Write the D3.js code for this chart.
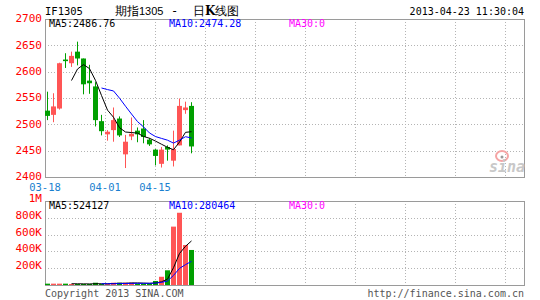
<!DOCTYPE html>
<html>
<head>
<meta charset="utf-8">
<script src="https://cdn.jsdelivr.net/npm/d3@7"></script>
<style>
body { margin: 0; background: #fff; }
svg { display: block; }
text { font-family: "DejaVu Sans Mono", monospace; }
</style>
</head>
<body>
<div></div>
<script>
// trading days shown on the chart
let dates = ["03-18", "03-19", "03-20", "03-21", "03-22", "03-25", "03-26", "03-27", "03-28", "03-29",
    "04-01", "04-02", "04-03", "04-08", "04-09", "04-10", "04-11", "04-12", "04-15", "04-16",
    "04-17", "04-18", "04-19", "04-22", "04-23"];
let open = [2526, 2518, 2530, 2623, 2616, 2638, 2625, 2583, 2572, 2506,
    2481, 2489, 2511, 2443, 2477, 2488, 2492, 2471, 2452, 2425,
    2457, 2431, 2460, 2527, 2535];
let high = [2562, 2559, 2617, 2635, 2638, 2657, 2625, 2613, 2580, 2518,
    2489, 2532, 2515, 2480, 2513, 2494, 2508, 2474, 2453, 2457,
    2460, 2488, 2549, 2543, 2542];
let low = [2508, 2504, 2528, 2607, 2609, 2612, 2557, 2558, 2496, 2479,
    2469, 2467, 2476, 2417, 2470, 2466, 2464, 2459, 2422, 2418,
    2431, 2420, 2460, 2520, 2445];
let close = [2516, 2534, 2616, 2620, 2630, 2625, 2576, 2578, 2508, 2487,
    2486, 2508, 2479, 2467, 2482, 2481, 2476, 2462, 2440, 2452,
    2452, 2453, 2535, 2532, 2458];
// volume in thousands of lots
let volume = [16, 16, 16, 16, 12, 12, 12, 12, 27, 12,
    12, 27, 27, 27, 27, 15, 15, 15, 48, 98,
    175, 695, 860, 476, 417];

let priceTicks = [2400, 2450, 2500, 2550, 2600, 2650, 2700];
let volTicks = [200, 400, 600, 800, 1000];
let volTickLabels = ["200K", "400K", "600K", "800K", "1M"];
let dateTickLabels = ["03-18", "04-01", "04-15"];

let priceMaText = ["MA5:2486.76", "MA10:2474.28", "MA30:0"];
let volMaText = ["MA5:524127", "MA10:280464", "MA30:0"];

let w = 540, h = 300;
let left = 45, right = 525;
let red = "#ff5555", green = "#009f00", grid = "#b4b4b4", frame = "#9a9a9a";
let maColors = ["#000000", "#0000ff", "#ff00ff"];

let svg = d3.select("div").append("svg").attr("width", w).attr("height", h);

let x = d3.scaleLinear().domain([0, 80]).range([left, right]);
let yPrice = d3.scaleLinear().domain([2400, 2700]).range([177, 19]);
let yVol = d3.scaleLinear().domain([0, 1000]).range([285, 201]);

let crisp = v => Math.round(v) + 0.5;
let cx = i => x(i) + 2.5;
let days = d3.range(dates.length);
let up = i => close[i] >= open[i];

function movingAvg(arr, n) {
    return arr.map((d, i) => i < n - 1 ? null : d3.mean(arr.slice(i - n + 1, i + 1)));
}

// vertical grid columns every 50px
let gridX = d3.range(left + 60, right, 50);

function panel(yScale, ticks, top, bottom) {
    let g = svg.append("g");
    g.selectAll(".hg").data(ticks.slice(1, -1)).enter().append("line")
        .attr("x1", left).attr("x2", right)
        .attr("y1", d => crisp(yScale(d))).attr("y2", d => crisp(yScale(d)))
        .attr("stroke", grid).attr("stroke-dasharray", "1,2");
    g.selectAll(".vg").data(gridX).enter().append("line")
        .attr("x1", d => d + 0.5).attr("x2", d => d + 0.5)
        .attr("y1", top).attr("y2", bottom)
        .attr("stroke", grid).attr("stroke-dasharray", "1,2");
    g.append("rect")
        .attr("x", left + 0.5).attr("y", top + 0.5)
        .attr("width", right - left - 1).attr("height", bottom - top - 1)
        .attr("fill", "none").attr("stroke", frame);
}

panel(yPrice, priceTicks, Math.round(yPrice(2700)), Math.round(yPrice(2400)) + 1);
panel(yVol, [0].concat(volTicks), Math.round(yVol(1000)), Math.round(yVol(0)) + 1);

// price axis labels
let priceAxis = d3.axisLeft(yPrice).tickValues(priceTicks).tickSize(0).tickPadding(3)
    .tickFormat(d3.format("d"));
svg.append("g").attr("transform", "translate(" + left + ",0)").call(priceAxis)
    .call(g => g.select(".domain").remove())
    .selectAll("text").attr("fill", "#ff0000").attr("font-size", 11)
    .attr("font-family", "DejaVu Sans Mono").attr("dy", "0.25em");

let volAxis = d3.axisLeft(yVol).tickValues(volTicks).tickSize(0).tickPadding(3)
    .tickFormat((d, i) => volTickLabels[i]);
svg.append("g").attr("transform", "translate(" + left + ",0)").call(volAxis)
    .call(g => g.select(".domain").remove())
    .selectAll("text").attr("fill", "#ff0000").attr("font-size", 11)
    .attr("font-family", "DejaVu Sans Mono").attr("dy", "0.05em");

// date labels sit on the left edge and the first grid columns
svg.selectAll(".dl").data(dateTickLabels).enter().append("text")
    .attr("x", (d, i) => i == 0 ? left : gridX[i - 1])
    .attr("y", 191)
    .attr("text-anchor", "middle")
    .attr("font-size", 10.5)
    .attr("fill", "#1a7fcf")
    .text(d => d);

// candles
let candles = svg.append("g");
candles.selectAll("line").data(days).enter().append("line")
    .attr("x1", cx).attr("x2", cx)
    .attr("y1", i => yPrice(high[i])).attr("y2", i => yPrice(low[i]))
    .attr("stroke", i => up(i) ? red : green);
candles.selectAll("rect").data(days).enter().append("rect")
    .attr("x", i => x(i))
    .attr("width", i => x(i + 1) - x(i) - 1)
    .attr("y", i => yPrice(Math.max(open[i], close[i])))
    .attr("height", i => Math.max(1, Math.abs(yPrice(open[i]) - yPrice(close[i]))))
    .attr("fill", i => up(i) ? red : green);

// volume bars
svg.append("g").selectAll("rect").data(days).enter().append("rect")
    .attr("x", i => x(i))
    .attr("width", i => x(i + 1) - x(i) - 1)
    .attr("y", i => yVol(volume[i]))
    .attr("height", i => yVol(0) - yVol(volume[i]))
    .attr("fill", i => up(i) ? red : green);

// moving averages
function maLine(values, yScale, n, color) {
    let ma = movingAvg(values, n);
    let line = d3.line().defined(d => d != null).x((d, i) => cx(i)).y(d => yScale(d));
    svg.append("path").datum(ma).attr("d", line)
        .attr("fill", "none").attr("stroke", color).attr("stroke-width", 1);
}
maLine(close, yPrice, 5, maColors[0]);
maLine(close, yPrice, 10, maColors[1]);
maLine(volume, yVol, 5, maColors[0]);
maLine(volume, yVol, 10, maColors[1]);

// legends
let legendX = [49, 169, 289];
svg.selectAll(".pm").data(priceMaText).enter().append("text")
    .attr("x", (d, i) => legendX[i]).attr("y", 27)
    .attr("font-size", 10).attr("fill", (d, i) => maColors[i]).text(d => d);
svg.selectAll(".vm").data(volMaText).enter().append("text")
    .attr("x", (d, i) => legendX[i]).attr("y", 209)
    .attr("font-size", 10).attr("fill", (d, i) => maColors[i]).text(d => d);

// header
svg.append("text").attr("x", 45).attr("y", 15).attr("font-size", 10.5).text("IF1305");
svg.append("text").attr("x", 524).attr("y", 15).attr("text-anchor", "end")
    .attr("font-size", 10).text("2013-04-23 11:30:04");
let title = svg.append("text").attr("x", 115).attr("y", 15).attr("font-size", 12)
    .attr("font-family", "Noto Sans CJK SC");
title.append("tspan").text("期指");
title.append("tspan").attr("font-family", "Liberation Sans").attr("font-size", 11).text("1305");
svg.append("text").attr("x", 171).attr("y", 15).attr("font-size", 12).attr("font-family", "Liberation Sans").text("-");
let title2 = svg.append("text").attr("x", 193).attr("y", 15).attr("font-size", 12)
    .attr("font-family", "Noto Sans CJK SC");
title2.append("tspan").text("日");
title2.append("tspan").attr("font-weight", "bold").attr("font-family", "DejaVu Serif").text("K");
title2.append("tspan").text("线图");

// footer
svg.append("text").attr("x", 45).attr("y", 297).attr("font-size", 10).attr("fill", "#555").text("Copyright 2013 SINA.COM");
svg.append("text").attr("x", 524).attr("y", 297).attr("text-anchor", "end")
    .attr("font-size", 10).attr("fill", "#555").text("http://finance.sina.com.cn");

// sina watermark
let logo = svg.append("g").attr("transform", "translate(489,148)");
logo.append("ellipse").attr("cx", 13).attr("cy", 8).attr("rx", 6).attr("ry", 5)
    .attr("fill", "none").attr("stroke", "#f5a5a5").attr("stroke-width", 2);
logo.append("circle").attr("cx", 13).attr("cy", 9).attr("r", 1.5).attr("fill", "#999");
logo.append("text").attr("x", 0).attr("y", 24).attr("font-family", "DejaVu Sans")
    .attr("font-style", "italic").attr("font-weight", "bold").attr("font-size", 15)
    .attr("fill", "#c8c8c8").text("sina");
</script>
</body>
</html>
